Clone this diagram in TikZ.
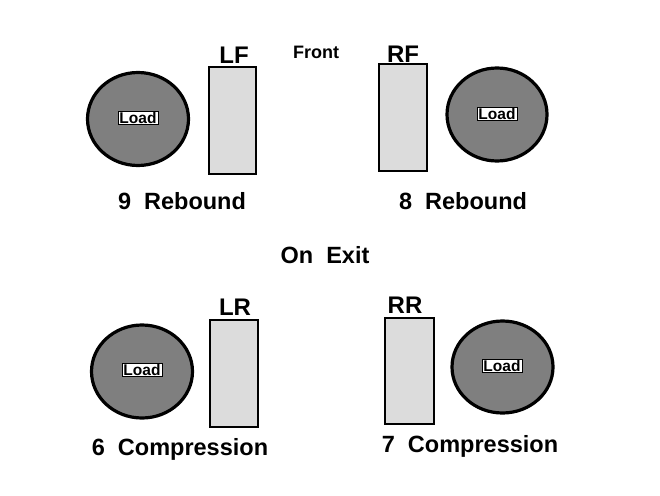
\documentclass[tikz,border=0pt]{standalone}
\usepackage{fontspec}
\setmainfont{Liberation Sans}
\usetikzlibrary{shapes.geometric}
\definecolor{loadgray}{HTML}{7F7F7F}
\definecolor{tiregray}{HTML}{DCDCDC}
\begin{document}
\begin{tikzpicture}[x=1pt,y=-1pt,
  loadell/.style={draw=black,line width=3.2pt,fill=loadgray,ellipse,inner sep=0pt},
  tirebox/.style={draw=black,line width=2pt,fill=tiregray,inner sep=0pt},
  loadtag/.style={draw=black,line width=0.6pt,fill=white,inner xsep=1.3pt,inner ysep=0.6pt,font=\bfseries\fontsize{15.5}{15.5}\selectfont},
  biglabel/.style={font=\bfseries\fontsize{23.5}{23.5}\selectfont,inner sep=0pt},
  corner/.style={font=\bfseries\fontsize{24}{24}\selectfont,inner sep=0pt}]
\useasboundingbox (0,0) rectangle (660,495);
\fill[white] (0,0) rectangle (660,495);
% LF
\node[loadell,minimum width=101pt,minimum height=93pt] (ell1) at (138,119) {};
\node[loadtag] (load1) at (138,118) {Load};
\node[tirebox,minimum width=47pt,minimum height=107pt] (lf) at (232.5,120.5) {};
\node[corner] (lflab) at (234,55) {LF};
\node[biglabel] (lfcap) at (182,201) {9\ \ Rebound};
% RF
\node[tirebox,minimum width=48pt,minimum height=107pt] (rf) at (403,117.5) {};
\node[corner] (rflab) at (403,54) {RF};
\node[loadell,minimum width=100pt,minimum height=93pt] (ell2) at (497,114.5) {};
\node[loadtag] (load2) at (497,114) {Load};
\node[biglabel] (rfcap) at (463,201) {8\ \ Rebound};
% center labels
\node[font=\bfseries\fontsize{18}{18}\selectfont,inner sep=0pt] (front) at (316,52) {Front};
\node[biglabel] (exit) at (325,255) {On\ \ Exit};
% LR
\node[loadell,minimum width=101pt,minimum height=93pt] (ell3) at (142,371.5) {};
\node[loadtag] (load3) at (142,370) {Load};
\node[tirebox,minimum width=48pt,minimum height=107pt] (lr) at (234,373.5) {};
\node[corner] (lrlab) at (235,307) {LR};
\node[biglabel] (lrcap) at (180,449) {6\ \ Compression};
% RR
\node[tirebox,minimum width=49pt,minimum height=106pt] (rr) at (409.5,371) {};
\node[corner] (rrlab) at (405,305) {RR};
\node[loadell,minimum width=101pt,minimum height=92pt] (ell4) at (502.5,367) {};
\node[loadtag] (load4) at (502,366) {Load};
\node[biglabel] (rrcap) at (470,446) {7\ \ Compression};
\end{tikzpicture}
\end{document}
